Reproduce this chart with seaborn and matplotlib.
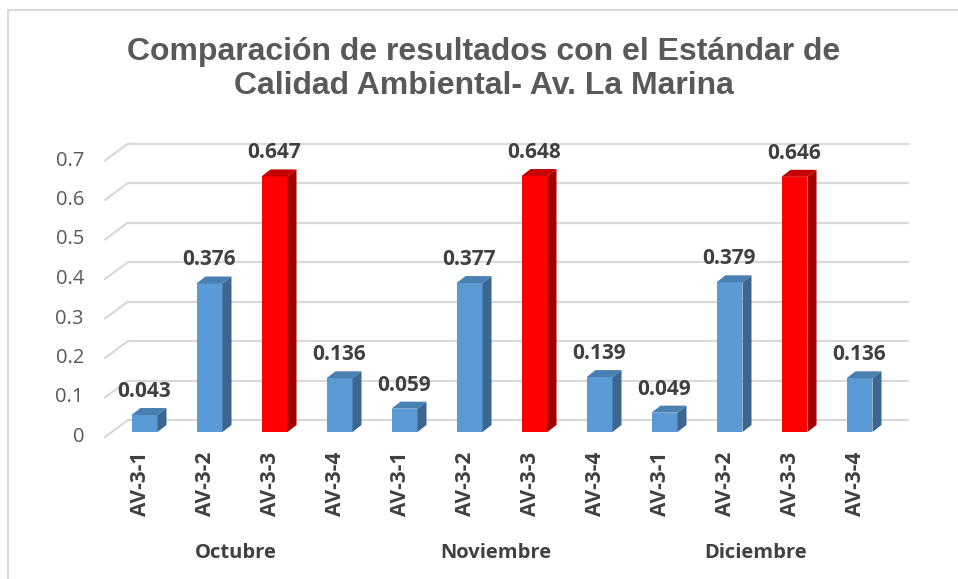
import numpy as np
import pandas as pd
import matplotlib
matplotlib.use("Agg")
import matplotlib.pyplot as plt
from matplotlib.patches import Polygon
from matplotlib.lines import Line2D
import seaborn as sns

# ---- data ----
months = ["Octubre", "Noviembre", "Diciembre"]
stations = ["AV-3-1", "AV-3-2", "AV-3-3", "AV-3-4"]
octubre = [0.043, 0.376, 0.647, 0.136]
noviembre = [0.059, 0.377, 0.648, 0.139]
diciembre = [0.049, 0.379, 0.646, 0.136]
y_ticks = [0, 0.1, 0.2, 0.3, 0.4, 0.5, 0.6, 0.7]
highlight_station = "AV-3-3"

rows = []
for m, vals in zip(months, [octubre, noviembre, diciembre]):
    for s, v in zip(stations, vals):
        rows.append({"mes": m, "estacion": s, "key": f"{m}|{s}", "valor": v})
df = pd.DataFrame(rows)

BLUE = ("#5B9BD5", "#3A6690", "#4A7FB2")
RED = ("#FF0000", "#A30000", "#C40000")
colors = {r.key: (RED if r.estacion == highlight_station else BLUE)[0] for r in df.itertuples()}

W, H, DPI = 958, 579, 100
fig = plt.figure(figsize=(W / DPI, H / DPI), dpi=DPI)
sns.set_style("white")

FONT = "Open Sans"
TXT = "#404040"

# plotting plane in pixels (origin top-left)
X0, X1, Y0 = 112, 892, 432
PPU = 395.0  # pixels per unit
ymax = 0.7
ax = fig.add_axes([X0 / W, (H - Y0) / H, (X1 - X0) / W, ymax * PPU / H])
ax.set_zorder(2)
ax.patch.set_visible(False)

sns.barplot(data=df, x="key", y="valor", hue="key", palette=colors, order=df["key"],
            hue_order=df["key"], width=0.4, legend=False, ax=ax, saturation=1,
            edgecolor="none", zorder=3)
ax.set_xlim(-0.5, len(df) - 0.5)
ax.set_ylim(0, ymax)
ax.axis("off")

fig.canvas.draw()
to_fig = fig.transFigure.inverted()


def px(xd, yd, dx=0.0, dy=0.0):
    """data point -> figure fraction, shifted by pixel offsets (dy upwards)."""
    d = ax.transData.transform((xd, yd))
    return to_fig.transform((d[0] + dx, d[1] + dy))


# back wall gridlines and floor diagonals
GRID = "#D9D9D9"
BDX, BDY = 16, 12   # back wall offset
FDX, FDY = -7, -5   # front edge offset
xl, xr = -0.5, len(df) - 0.5
for v in y_ticks:
    a, b = px(xl, v, BDX, BDY), px(xr, v, BDX, BDY)
    fig.add_artist(Line2D([a[0], b[0]], [a[1], b[1]], color=GRID, lw=1.6, zorder=1))
    c = px(xl, v, FDX, FDY)
    fig.add_artist(Line2D([c[0], a[0]], [c[1], a[1]], color=GRID, lw=1.6, zorder=1))
    t = px(xl, v, -28, FDY)
    fig.text(t[0], t[1], f"{v:g}", ha="right", va="center", fontsize=14.5,
             family=FONT, color="#595959")

# 3D faces for each bar
DX, DY = 9, 7
for patch, r in zip(ax.patches, df.itertuples()):
    x0 = patch.get_x()
    x1 = x0 + patch.get_width()
    h = patch.get_height()
    pal = RED if r.estacion == highlight_station else BLUE
    side = [px(x1, 0), px(x1, 0, DX, DY), px(x1, h, DX, DY), px(x1, h)]
    top = [px(x0, h), px(x1, h), px(x1, h, DX, DY), px(x0, h, DX, DY)]
    fig.add_artist(Polygon(side, closed=True, transform=fig.transFigure,
                           facecolor=pal[1], edgecolor="none", zorder=4))
    fig.add_artist(Polygon(top, closed=True, transform=fig.transFigure,
                           facecolor=pal[2], edgecolor="none", zorder=4))
    cx = x0 + patch.get_width() / 2
    lp = px(cx, h, 0, 18)
    fig.text(lp[0], lp[1], f"{h:.3f}", ha="center", va="baseline", fontsize=15,
             fontweight="bold", family=FONT, color=TXT, zorder=5)
    sp = px(cx, 0, -4, 0)
    fig.text(sp[0], 1 - 452 / H, r.estacion, rotation=90, ha="center", va="top",
             fontsize=15, fontweight="bold", family=FONT, color=TXT)

# month group labels
for i, m in enumerate(months):
    gc = i * len(stations) + (len(stations) - 1) / 2
    mp = px(gc, 0, -6, 0)
    fig.text(mp[0], 1 - 553 / H, m, ha="center", va="center", fontsize=14.5,
             fontweight="bold", family=FONT, color=TXT)

# title
fig.text(484 / W, 1 - 69 / H,
         "Comparación de resultados con el Estándar de\nCalidad Ambiental- Av. La Marina",
         ha="center", va="center", fontsize=23, fontweight="bold",
         family="Liberation Sans", color="#595959", linespacing=1.15)

# chart frame (left and top edges)
fig.add_artist(Line2D([7.5 / W, 7.5 / W], [0, 1 - 10 / H], color=GRID, lw=1.5))
fig.add_artist(Line2D([7.5 / W, 1], [1 - 10 / H, 1 - 10 / H], color=GRID, lw=1.5))

fig.savefig("out.png", dpi=DPI, facecolor="white")
